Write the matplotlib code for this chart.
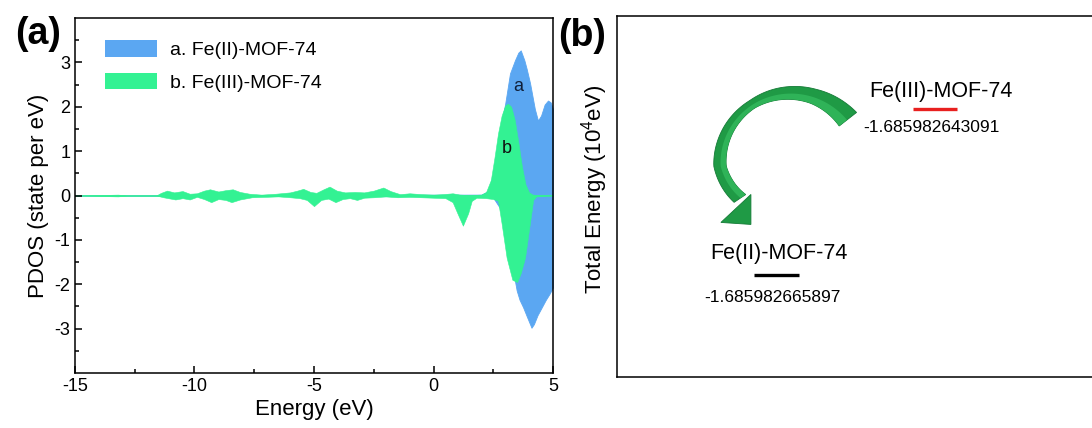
import numpy as np
import matplotlib
matplotlib.use("Agg")
import matplotlib.pyplot as plt
from matplotlib.patches import Patch, Polygon

plt.rcParams['font.family'] = ['Liberation Sans', 'DejaVu Sans']
plt.rcParams['mathtext.fontset'] = 'custom'
plt.rcParams['mathtext.rm'] = 'Liberation Sans'
plt.rcParams['mathtext.it'] = 'Liberation Sans:italic'
plt.rcParams['axes.unicode_minus'] = False

# ---------------- data: panel (a) PDOS ----------------
# Fe(III)-MOF-74 (green), spin up / spin down
e3_up = [-15, -14, -13.2, -12.8, -11.6, -11.4, -11.15, -10.85, -10.5, -10.2, -9.9, -9.6, -9.35,
         -9.0, -8.7, -8.4, -8.1, -7.7, -7.2, -6.6, -6.0, -5.7, -5.45, -5.15, -4.9, -4.6, -4.35,
         -4.05, -3.7, -3.3, -2.9, -2.5, -2.1, -1.8, -1.4, -1.0, -0.5, 0.0, 0.4, 0.8, 1.1, 1.5,
         2.0, 2.2, 2.4, 2.55, 2.7, 2.85, 3.0, 3.12, 3.25, 3.4, 3.55, 3.7, 3.85, 4.0, 4.15, 4.5, 5.0]
d3_up = [0, 0.01, 0.02, 0.0, 0.0, 0.06, 0.11, 0.07, 0.10, 0.04, 0.05, 0.11, 0.14,
         0.09, 0.12, 0.14, 0.08, 0.04, 0.02, 0.04, 0.07, 0.11, 0.15, 0.08, 0.06, 0.14, 0.20,
         0.11, 0.07, 0.08, 0.07, 0.11, 0.18, 0.10, 0.03, 0.05, 0.03, 0.02, 0.03, 0.05, 0.02, 0.01,
         0.02, 0.08, 0.35, 0.85, 1.40, 1.80, 2.03, 2.07, 2.00, 1.70, 1.20, 0.65, 0.25, 0.07, 0.02, 0.01, 0.01]
e3_dn = [-15, -13.2, -12.8, -11.6, -11.3, -10.8, -10.5, -10.2, -9.9, -9.6, -9.3, -9.0, -8.7,
         -8.45, -8.1, -7.6, -7.0, -6.5, -6.0, -5.6, -5.3, -5.0, -4.7, -4.4, -4.1, -3.8, -3.5,
         -3.2, -2.9, -2.5, -2.0, -1.5, -1.0, -0.5, 0.0, 0.5, 0.8, 1.0, 1.23, 1.45, 1.6, 1.8,
         2.2, 2.5, 2.7, 2.85, 3.06, 3.3, 3.5, 3.65, 3.83, 4.04, 4.17, 4.3, 5.0]
d3_dn = [0, -0.02, 0, 0, -0.04, -0.09, -0.06, -0.09, -0.03, -0.08, -0.15, -0.08, -0.10,
         -0.15, -0.09, -0.04, -0.03, -0.02, -0.04, -0.06, -0.10, -0.24, -0.10, -0.07, -0.15, -0.08, -0.06,
         -0.10, -0.05, -0.04, -0.02, -0.04, -0.03, -0.04, -0.05, -0.06, -0.15, -0.40, -0.68, -0.40, -0.12, -0.05,
         -0.06, -0.08, -0.12, -0.63, -1.40, -1.90, -1.95, -1.75, -1.40, -0.60, -0.10, -0.02, 0.0]

# Fe(II)-MOF-74 (blue), spin up / spin down
e2_up = [-15, 2.0, 2.3, 2.5, 2.7, 2.9, 3.0, 3.2, 3.41, 3.55, 3.65, 3.8, 3.9, 4.04, 4.24,
         4.37, 4.5, 4.65, 4.79, 4.9, 5.0]
d2_up = [0, 0.02, 0.10, 0.50, 1.20, 1.80, 2.07, 2.75, 3.05, 3.22, 3.27, 3.05, 2.85, 2.53, 1.95,
         1.69, 1.80, 2.05, 2.14, 2.10, 1.95]
e2_dn = [-15, 2.2, 2.5, 2.8, 3.1, 3.3, 3.48, 3.6, 3.75, 3.9, 4.1, 4.2, 4.35, 4.53, 4.7, 4.85, 5.0]
d2_dn = [0, -0.02, -0.05, -0.30, -1.00, -1.60, -2.14, -2.35, -2.52, -2.72, -2.98, -2.90, -2.70,
         -2.52, -2.35, -2.22, -2.07]

series_labels = ['a. Fe(II)-MOF-74', 'b. Fe(III)-MOF-74']
x_ticks = [-15, -10, -5, 0, 5]
y_ticks = [-3, -2, -1, 0, 1, 2, 3]

# ---------------- data: panel (b) total energies ----------------
level_names = ['Fe(II)-MOF-74', 'Fe(III)-MOF-74']
level_values = ['-1.685982665897', '-1.685982643091']

blue = '#5ba7f2'
green = '#33f293'

W, H = 1092, 428
fig = plt.figure(figsize=(W / 100, H / 100), dpi=100)

def px_axes(l, t, r, b):
    return fig.add_axes([l / W, 1 - b / H, (r - l) / W, (b - t) / H])

# ---------------- panel (a) ----------------
ax = px_axes(75, 18, 553, 373)
ax.fill_between(e2_up, 0, d2_up, color=blue, lw=0.6, edgecolor=blue)
ax.fill_between(e2_dn, 0, d2_dn, color=blue, lw=0.6, edgecolor=blue)
ax.fill_between(e3_up, 0, d3_up, color=green, lw=0.4, edgecolor=green)
ax.fill_between(e3_dn, 0, d3_dn, color=green, lw=0.4, edgecolor=green)
ax.set_xlim(-15, 5)
ax.set_ylim(-4, 4)
ax.set_xticks(x_ticks)
ax.set_xticklabels([str(t) for t in x_ticks])
ax.set_yticks(y_ticks)
ax.set_yticklabels([str(t) for t in y_ticks])
ax.set_xticks([-12.5, -7.5, -2.5, 2.5], minor=True)
ax.set_yticks(np.arange(-3.5, 4.0, 1.0), minor=True)
ax.tick_params(which='both', direction='in', labelsize=13, width=1.1)
ax.tick_params(which='major', length=5)
ax.tick_params(which='minor', length=3)
for s in ax.spines.values():
    s.set_linewidth(1.1)
ax.set_xlabel('Energy (eV)', fontsize=16, labelpad=3)
ax.set_ylabel('PDOS (state per eV)', fontsize=16, labelpad=4)
ax.text(3.55, 2.45, 'a', fontsize=13, color='#10203a', ha='center', va='center')
ax.text(3.08, 1.05, 'b', fontsize=13, color='#101010', ha='center', va='center')
handles = [Patch(facecolor=blue, edgecolor='none'), Patch(facecolor=green, edgecolor='none')]
ax.legend(handles, series_labels, loc='upper left', bbox_to_anchor=(0.062, 0.937),
          frameon=False, fontsize=14, handlelength=2.7, handleheight=0.9,
          handletextpad=0.65, labelspacing=0.72, borderpad=0, borderaxespad=0)
fig.text(38 / W, 1 - 34 / H, '(a)', fontsize=27, fontweight='bold', ha='center', va='center')

# ---------------- panel (b) ----------------
bx = px_axes(617, 16, 1104, 377)
bx.set_xlim(617, 1104)
bx.set_ylim(377, 16)
bx.set_xticks([])
bx.set_yticks([])
for s in bx.spines.values():
    s.set_linewidth(1.1)
bx.set_ylabel('Total Energy (10$^{4}$eV)', fontsize=16)
bx.yaxis.set_label_coords(-0.015, 0.52)
fig.text(582 / W, 1 - 36 / H, '(b)', fontsize=27, fontweight='bold', ha='center', va='center')

# energy levels
lv_x = [(754, 799), (913, 957)]
lv_y = [275, 109]
lv_col = ['black', '#e8201f']
name_pos = [(779, 254), (941, 92)]
val_pos = [(772, 297), (931, 128)]
for i in range(2):
    bx.plot(lv_x[i], [lv_y[i], lv_y[i]], color=lv_col[i], lw=2.4, solid_capstyle='butt')
    bx.text(*name_pos[i], level_names[i], fontsize=15.5, ha='center', va='center')
    bx.text(*val_pos[i], level_values[i], fontsize=12.5, ha='center', va='center')

# curved 3D-like arrow (decorative geometry, pixel coordinates of panel b)
cx, cy = 788, 166
ang = np.radians(np.linspace(38, 214, 90))
rad = np.interp(ang, np.radians([38, 90, 180, 214]), [76, 73, 68, 58])
width = np.interp(ang, np.radians([38, 70, 120, 170, 214]), [22, 15, 9, 12, 14])
xo = cx + (rad + width / 2) * np.cos(ang)
yo = cy - (rad + width / 2) * np.sin(ang)
xi = cx + (rad - width / 2) * np.cos(ang)
yi = cy - (rad - width / 2) * np.sin(ang)
body = np.column_stack([np.concatenate([xo, xi[::-1]]), np.concatenate([yo, yi[::-1]])])
bx.add_patch(Polygon(body, closed=True, facecolor='#1f9a45', edgecolor='#147a36', lw=0.6))
xi2 = cx + (rad - width * 0.05) * np.cos(ang)
yi2 = cy - (rad - width * 0.05) * np.sin(ang)
hl = np.column_stack([np.concatenate([xi2, xi[::-1]]), np.concatenate([yi2, yi[::-1]])])
bx.add_patch(Polygon(hl, closed=True, facecolor='#2fb358', edgecolor='none'))
ex = cx + rad[-1] * np.cos(ang[-1])
ey = cy - rad[-1] * np.sin(ang[-1])
head = [(ex + 11, ey - 4), (ex + 11, ey + 26), (ex - 19, ey + 24)]
bx.add_patch(Polygon(head, closed=True, facecolor='#1f9a45', edgecolor='#147a36', lw=0.6))

fig.savefig('out.png', dpi=100)
